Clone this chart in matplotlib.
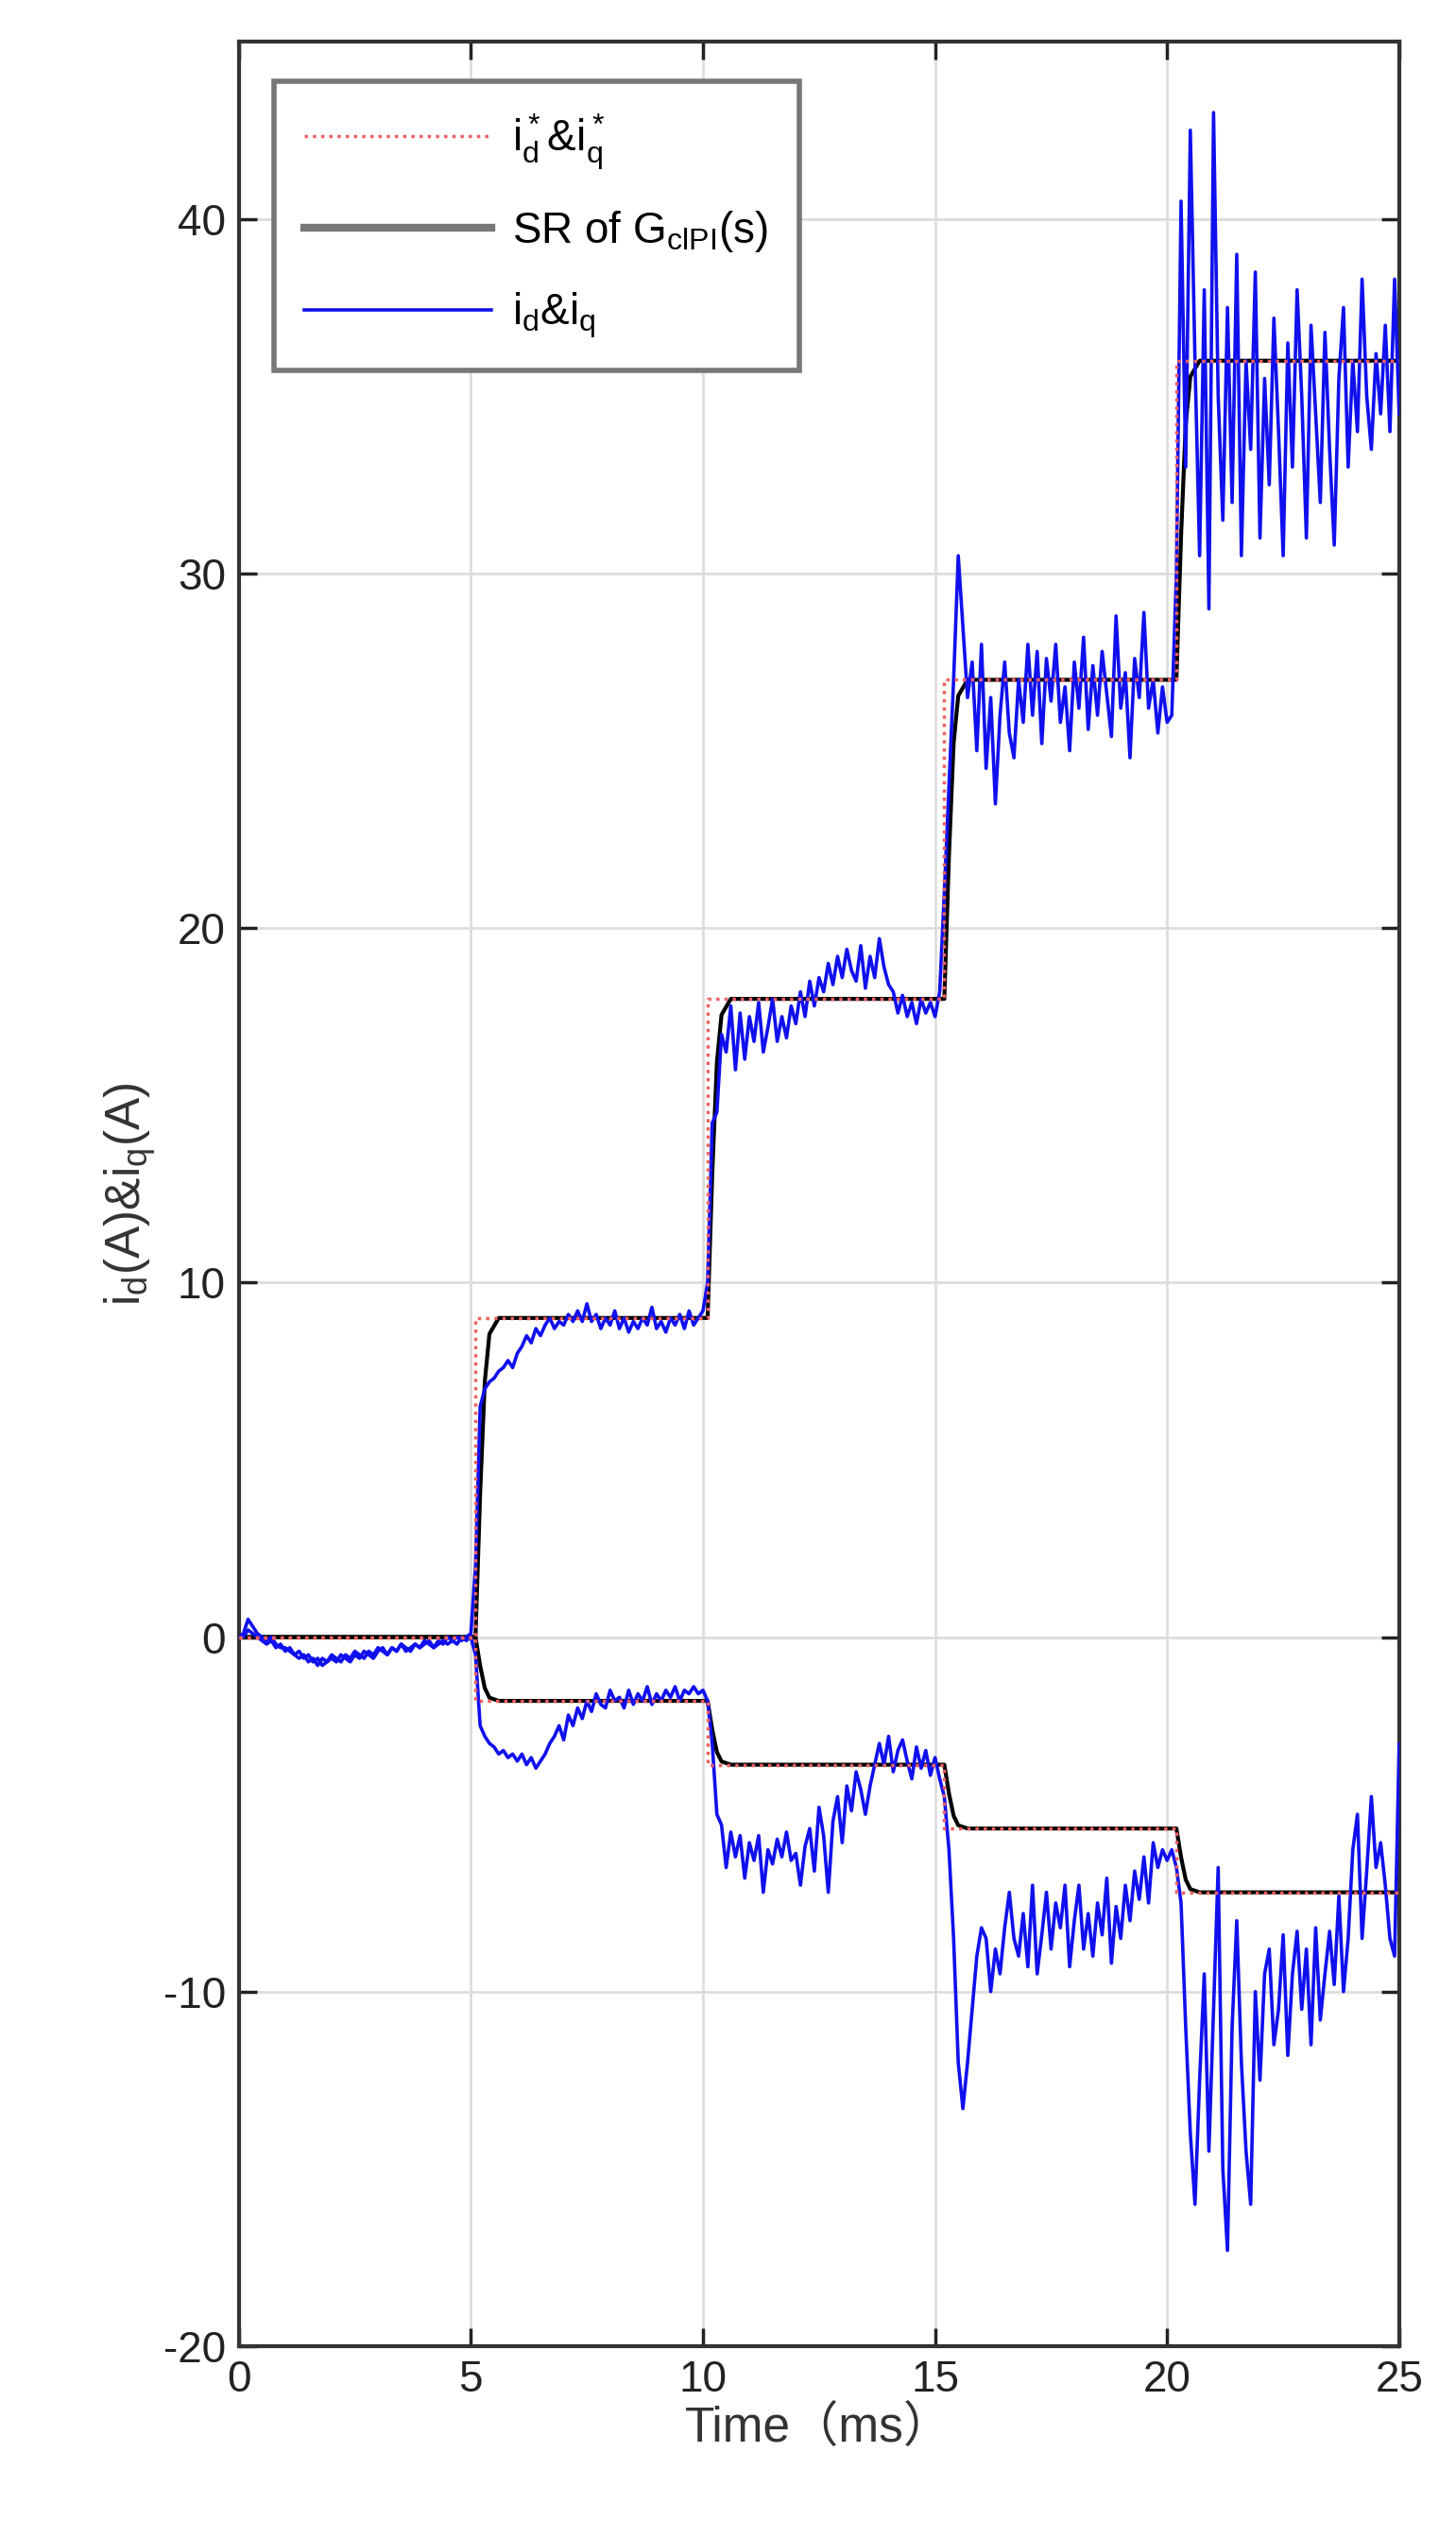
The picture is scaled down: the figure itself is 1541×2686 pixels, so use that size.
import numpy as np
import matplotlib
matplotlib.use("Agg")
import matplotlib.pyplot as plt

plt.rcParams['font.family'] = ['Liberation Sans', 'Noto Sans CJK SC', 'DejaVu Sans']
plt.rcParams['mathtext.default'] = 'regular'
plt.rcParams['axes.unicode_minus'] = False

seg_starts = [0.0, 5.1, 10.1, 15.2, 20.2]
step_times = [0, 5.1, 10.1, 15.2, 20.2]
iq_levels = [0, 9, 18, 27, 36]
id_levels = [0, -1.8, -3.6, -5.4, -7.2]
sr_dt = [0.0, 0.1, 0.2, 0.3, 0.5]
sr_frac = [0.0, 0.45, 0.8, 0.95, 1.0]

iq_segs = [
 [0,0.1,0.5,0.3,0.1,0,-0.1,0,-0.2,-0.3,-0.3,-0.4,-0.5,-0.6,-0.5,-0.7,-0.6,-0.8,-0.6,-0.7,-0.5,-0.6,-0.7,-0.5,-0.6,-0.4,-0.5,-0.6,-0.4,-0.5,-0.3,-0.4,-0.5,-0.3,-0.4,-0.2,-0.3,-0.4,-0.2,-0.3,-0.2,-0.1,-0.3,-0.2,-0.1,-0.2,-0.1,0,-0.1,0,0.1],
 [2,6.5,7,7.2,7.3,7.5,7.6,7.8,7.6,8,8.2,8.5,8.3,8.7,8.5,8.8,9.0,8.7,8.9,8.8,9.1,8.9,9.2,8.9,9.4,8.9,9.1,8.7,9.0,8.8,9.2,8.7,9.0,8.6,8.9,8.7,9.0,8.8,9.3,8.7,8.9,8.6,9.0,8.8,9.1,8.7,9.2,8.8,9.0,9.2],
 [10,14.5,14.8,17,16.5,17.8,16,17.6,16.3,17.5,16.8,17.9,16.5,17.2,18,16.8,17.5,16.9,17.8,17.3,18.2,17.5,18.5,17.8,18.6,18.2,19,18.4,19.2,18.6,19.4,18.8,18.5,19.5,18.3,19.2,18.6,19.7,18.9,18.4,18.2,17.6,18.1,17.5,17.9,17.3,18,17.6,17.9,17.5,18.2],
 [21,24,27,30.5,28.5,26.5,27.5,25,28,24.5,26.5,23.5,26,27.5,25.5,24.8,27,25.8,28,26,27.8,25.2,27.6,26.4,28,25.8,26.8,25,27.5,26.2,28.2,25.6,27.4,26,27.8,26.6,25.4,28.8,26.2,27.2,24.8,27.6,26.5,28.9,26.2,27,25.5,26.8,25.8,26],
 [30,40.5,33,42.5,36,30.5,38,29,43,35,31.5,37.5,32,39,30.5,36,33.5,38.5,31,35.5,32.5,37.2,34,30.5,36.5,33,38,35,31,37,34.5,32,36.8,33.5,30.8,35.5,37.5,33,36,34,38.3,35,33.5,36.2,34.5,37,34,38.3,34.5],
]
id_segs = [
 [0,0,0.2,0.1,0,-0.1,-0.2,-0.1,-0.3,-0.2,-0.4,-0.3,-0.5,-0.4,-0.6,-0.5,-0.7,-0.6,-0.8,-0.7,-0.6,-0.7,-0.5,-0.6,-0.7,-0.5,-0.6,-0.4,-0.5,-0.6,-0.4,-0.3,-0.5,-0.3,-0.4,-0.2,-0.4,-0.3,-0.2,-0.3,-0.1,-0.2,-0.3,-0.1,-0.2,0,-0.1,-0.2,0,-0.1,0],
 [-0.5,-2.5,-2.8,-3.0,-3.1,-3.3,-3.2,-3.4,-3.3,-3.5,-3.3,-3.6,-3.4,-3.7,-3.5,-3.3,-3.0,-2.8,-2.5,-2.9,-2.2,-2.5,-2.0,-2.3,-1.8,-2.1,-1.6,-1.9,-2.0,-1.5,-1.8,-1.7,-2.0,-1.5,-1.9,-1.6,-1.8,-1.4,-1.9,-1.6,-1.8,-1.5,-1.7,-1.4,-1.8,-1.5,-1.6,-1.4,-1.6,-1.5],
 [-1.8,-3,-5,-5.3,-6.5,-5.5,-6.2,-5.6,-6.8,-5.8,-6.3,-5.6,-7.2,-6,-6.4,-5.7,-6.2,-5.5,-6.3,-6.1,-7,-5.9,-5.4,-6.6,-4.8,-5.6,-7.2,-5.2,-4.5,-5.8,-4.2,-4.9,-3.8,-4.3,-5.0,-4.2,-3.6,-3.0,-3.6,-2.8,-3.8,-3.2,-2.9,-3.5,-4.0,-3.1,-3.7,-3.2,-3.9,-3.4,-4.0],
 [-4.5,-6,-8.5,-12,-13.3,-12,-10.5,-9,-8.2,-8.5,-10,-8.8,-9.5,-8.2,-7.2,-8.5,-9,-7.8,-9.3,-7,-9.5,-8.4,-7.2,-8.8,-7.5,-8.2,-7.0,-9.3,-8.0,-7.0,-8.8,-7.8,-9.0,-7.5,-8.4,-6.8,-9.2,-7.6,-8.5,-7.0,-8.0,-6.6,-7.4,-6.2,-7.5,-5.8,-6.5,-6.0,-6.3,-6.0],
 [-6.5,-7.5,-11,-14,-16,-12.5,-9.5,-14.5,-10.5,-6.5,-15,-17.3,-11,-8,-12,-14.5,-16,-10,-12.5,-9.5,-8.8,-11.5,-10.5,-8.4,-11.8,-9.5,-8.3,-10.5,-8.8,-11.5,-8.2,-10.8,-9.5,-8.3,-9.8,-7.3,-10,-8.5,-6,-5,-8.5,-6.6,-4.5,-6.5,-5.8,-7,-8.5,-9,-3],
]

def build(segs):
    t, v = [], []
    for s0, seg in zip(seg_starts, segs):
        for i, val in enumerate(seg):
            t.append(s0 + 0.1 * i); v.append(val)
    return np.array(t), np.array(v)

def ref_steps(levels):
    t = list(step_times) + [25]
    v = list(levels) + [levels[-1]]
    return t, v

def sr(levels):
    t, v = [0], [levels[0]]
    for k in range(1, len(levels)):
        d = levels[k] - levels[k-1]
        for dt, f in zip(sr_dt, sr_frac):
            t.append(step_times[k] + dt); v.append(levels[k-1] + f * d)
    t.append(25); v.append(levels[-1])
    return t, v

fig = plt.figure(figsize=(15.41, 26.86), dpi=100)
ax = fig.add_axes([0.164, 0.0756, 0.797, 0.908])

tq, vq = build(iq_segs)
td, vd = build(id_segs)
for lev, lab in [(iq_levels, True), (id_levels, False)]:
    t, v = sr(lev)
    ax.plot(t, v, color='black', lw=3, label='SR of G$_{clPI}$(s)' if lab else None, zorder=2)
ax.plot(tq, vq, color='#1010ee', lw=2.6, label='$i_d$&$i_q$', zorder=3)
ax.plot(td, vd, color='#1010ee', lw=2.6, zorder=3)
for lev, lab in [(iq_levels, True), (id_levels, False)]:
    t, v = ref_steps(lev)
    ax.step(t, v, where='post', color='#f06060', lw=2.5, ls=(0, (1, 1.5)),
            label='$i_d^*$&$i_q^*$' if lab else None, zorder=4)

ax.set_xlim(0, 25); ax.set_ylim(-20, 45)
ax.set_xticks([0, 5, 10, 15, 20, 25]); ax.set_yticks([-20, -10, 0, 10, 20, 30, 40])
ax.grid(True, color='#dddddd', lw=2)
ax.tick_params(direction='in', length=14, width=2.5, labelsize=33, colors='#222222', top=True, right=True, pad=10)
for s in ax.spines.values():
    s.set_color('#333333'); s.set_linewidth(3)
ax.set_xlabel('Time（ms）', fontsize=37, labelpad=4, color='#333333')
ax.set_ylabel('$i_d$(A)&$i_q$(A)', fontsize=37, color='#333333')

h, l = ax.get_legend_handles_labels()
order = [l.index('$i_d^*$&$i_q^*$'), l.index('SR of G$_{clPI}$(s)'), l.index('$i_d$&$i_q$')]
leg = ax.legend([h[i] for i in order], [l[i] for i in order], loc='upper left',
                bbox_to_anchor=(0.012, 0.992), fontsize=33, handlelength=4.3, fancybox=False,
                framealpha=1, edgecolor='#777777', borderpad=0.7, labelspacing=0.85, handletextpad=0.5)
leg.get_frame().set_linewidth(4)
leg.legend_handles[1].set_color('#777777'); leg.legend_handles[1].set_linewidth(6)
fig.savefig('out.png', dpi=100)
